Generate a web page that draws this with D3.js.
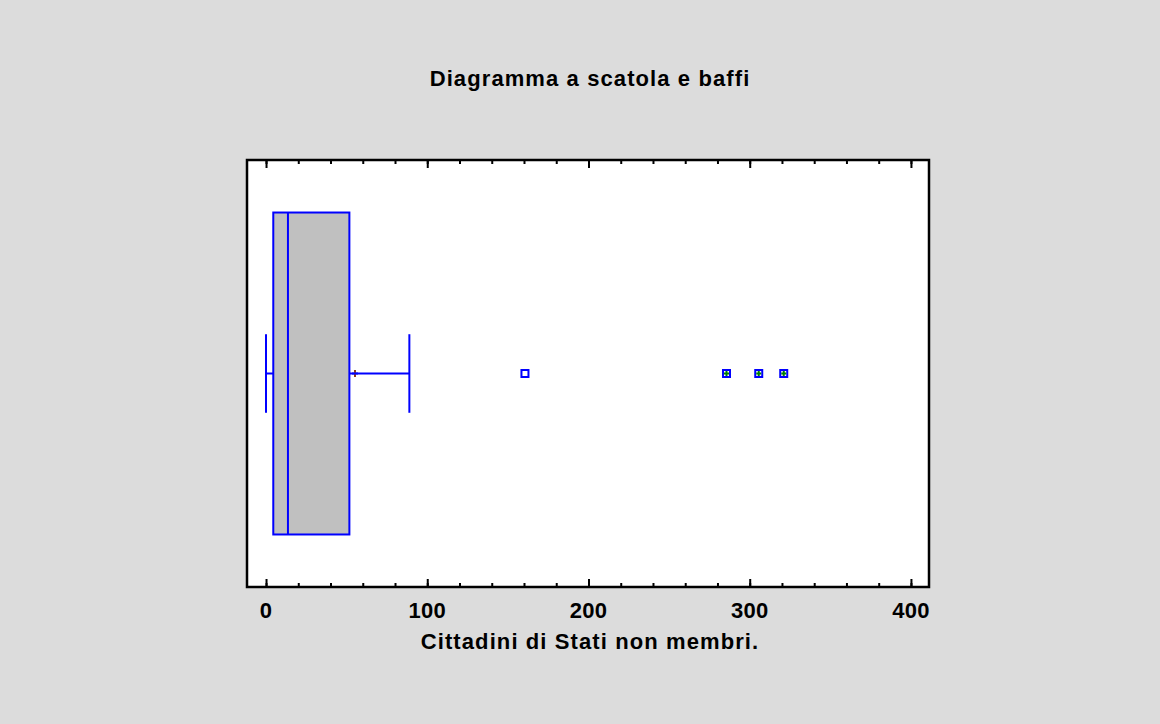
<!DOCTYPE html>
<html>
<head>
<meta charset="utf-8">
<script src="https://cdn.jsdelivr.net/npm/d3@7"></script>
<style>
  html, body { margin: 0; padding: 0; background: #dcdcdc; }
  svg { display: block; }
  text { font-family: "Liberation Sans", Arial, sans-serif; font-weight: bold; fill: #000; }
</style>
</head>
<body>
<svg id="chart" width="1160" height="724"></svg>
<script>
// Five-number summary of the variable
const whiskerLow = 0;
const q1 = 4.5;
const median = 13.6;
const q3 = 51.7;
const whiskerHigh = 88.9;
const mean = 55.2;
// Outside points (mild) and far outside points (beyond 3 IQR)
const mildOutliers = [160.6];
const farOutliers = [285.6, 305.6, 321.1];
// Axis
const majorTicks = [0, 100, 200, 300, 400];
const minorTicks = d3.range(0, 401, 20);
const titleText = "Diagramma a scatola e baffi";
const xLabel = "Cittadini di Stati non membri.";

const svg = d3.select("#chart");
const W = 1160, H = 724;
const frame = { left: 247, right: 929, top: 160, bottom: 587 };

svg.append("rect").attr("width", W).attr("height", H).attr("fill", "#dcdcdc");

const x = d3.scaleLinear().domain([-11.8, 411.2]).range([frame.left, frame.right]);
const y = d3.scaleLinear().domain([0, 1]).range([frame.bottom, frame.top]);

// plot area
svg.append("rect")
  .attr("x", frame.left).attr("y", frame.top)
  .attr("width", frame.right - frame.left).attr("height", frame.bottom - frame.top)
  .attr("fill", "#fff");

// bottom axis: major ticks with labels, minor ticks without
const gBottom = svg.append("g").attr("transform", `translate(0,${frame.bottom})`);
gBottom.call(d3.axisTop(x).tickValues(minorTicks).tickSize(4).tickFormat(""))
  .call(g => g.select(".domain").remove())
  .call(g => g.selectAll("line").attr("stroke", "#000").attr("stroke-width", 2));
gBottom.append("g").call(d3.axisTop(x).tickValues(majorTicks).tickSize(8).tickFormat(""))
  .call(g => g.select(".domain").remove())
  .call(g => g.selectAll("line").attr("stroke", "#000").attr("stroke-width", 2));
gBottom.append("g").selectAll("text").data(majorTicks).join("text")
  .attr("x", d => x(d)).attr("y", 31)
  .attr("text-anchor", "middle")
  .attr("font-size", 22)
  .attr("letter-spacing", 0.3)
  .text(d => d);

// top axis ticks
const gTop = svg.append("g").attr("transform", `translate(0,${frame.top})`);
gTop.call(d3.axisBottom(x).tickValues(minorTicks).tickSize(4).tickFormat(""))
  .call(g => g.select(".domain").remove())
  .call(g => g.selectAll("line").attr("stroke", "#000").attr("stroke-width", 2));
gTop.append("g").call(d3.axisBottom(x).tickValues(majorTicks).tickSize(8).tickFormat(""))
  .call(g => g.select(".domain").remove())
  .call(g => g.selectAll("line").attr("stroke", "#000").attr("stroke-width", 2));

// frame
svg.append("rect")
  .attr("x", frame.left).attr("y", frame.top)
  .attr("width", frame.right - frame.left).attr("height", frame.bottom - frame.top)
  .attr("fill", "none").attr("stroke", "#000").attr("stroke-width", 2.5);

const blue = "#0000ff";
const cy = y(0.5);
const boxTop = y(0.877), boxBottom = y(0.123);
const capTop = y(0.592), capBottom = y(0.408);

// whiskers
svg.append("line").attr("x1", x(whiskerLow)).attr("x2", x(q1)).attr("y1", cy).attr("y2", cy)
  .attr("stroke", blue).attr("stroke-width", 2);
svg.append("line").attr("x1", x(q3)).attr("x2", x(whiskerHigh)).attr("y1", cy).attr("y2", cy)
  .attr("stroke", blue).attr("stroke-width", 2);
[whiskerLow, whiskerHigh].forEach(v => {
  svg.append("line").attr("x1", x(v)).attr("x2", x(v)).attr("y1", capTop).attr("y2", capBottom)
    .attr("stroke", blue).attr("stroke-width", 2);
});

// box
svg.append("rect")
  .attr("x", x(q1)).attr("y", boxTop)
  .attr("width", x(q3) - x(q1)).attr("height", boxBottom - boxTop)
  .attr("fill", "#c0c0c0").attr("stroke", blue).attr("stroke-width", 2);
svg.append("line").attr("x1", x(median)).attr("x2", x(median)).attr("y1", boxTop).attr("y2", boxBottom)
  .attr("stroke", blue).attr("stroke-width", 2);

// mean marker
svg.append("line").attr("x1", x(mean)).attr("x2", x(mean)).attr("y1", cy - 3.5).attr("y2", cy + 3.5)
  .attr("stroke", "#8b3a1a").attr("stroke-width", 2);
svg.append("line").attr("x1", x(mean) - 3).attr("x2", x(mean) + 3).attr("y1", cy).attr("y2", cy)
  .attr("stroke", blue).attr("stroke-width", 2);

// outside points
const sq = 7;
svg.append("g").selectAll("rect").data(mildOutliers.concat(farOutliers)).join("rect")
  .attr("x", d => x(d) - sq / 2).attr("y", cy - sq / 2)
  .attr("width", sq).attr("height", sq)
  .attr("fill", "#fff").attr("stroke", blue).attr("stroke-width", 2);
const plus = svg.append("g").selectAll("g").data(farOutliers).join("g")
  .attr("transform", d => `translate(${x(d)},${cy})`);
plus.append("line").attr("x1", -2.5).attr("x2", 2.5).attr("y1", 0).attr("y2", 0)
  .attr("stroke", "#008000").attr("stroke-width", 2);
plus.append("line").attr("x1", 0).attr("x2", 0).attr("y1", -2.5).attr("y2", 2.5)
  .attr("stroke", "#008000").attr("stroke-width", 2);

// titles
svg.append("text").attr("x", 590).attr("y", 86).attr("text-anchor", "middle")
  .attr("font-size", 22).attr("letter-spacing", 1.1).text(titleText);
svg.append("text").attr("x", 590).attr("y", 649).attr("text-anchor", "middle")
  .attr("font-size", 22).attr("letter-spacing", 1.1).text(xLabel);
</script>
</body>
</html>
